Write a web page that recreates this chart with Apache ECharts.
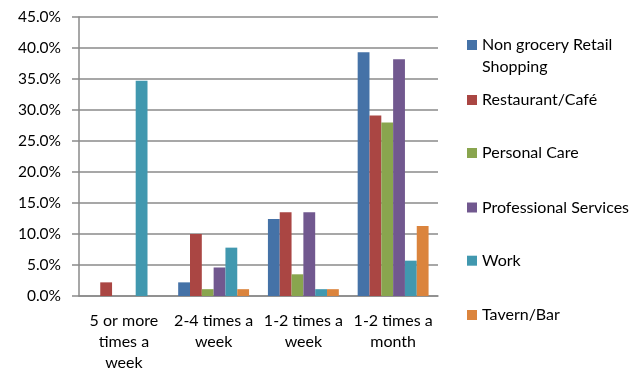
<!DOCTYPE html>
<html>
<head>
<meta charset="utf-8">
<script src="https://cdn.jsdelivr.net/npm/echarts@6/dist/echarts.min.js"></script>
<style>
  html, body { margin: 0; padding: 0; background: #fff; }
  #chart { width: 644px; height: 369px; }
</style>
</head>
<body>
<div id="chart"></div>
<script>
// Visit frequency categories (line breaks as shown under the axis)
const categories = ['5 or more\ntimes a\nweek', '2-4 times a\nweek', '1-2 times a\nweek', '1-2 times a\nmonth'];

// Share of respondents per destination type (%)
const nonGroceryRetail = [0, 2.2, 12.4, 39.3];
const restaurantCafe   = [2.2, 10.0, 13.5, 29.1];
const personalCare     = [0, 1.1, 3.5, 28.0];
const professionalSvc  = [0, 4.6, 13.5, 38.2];
const work             = [34.7, 7.8, 1.1, 5.7];
const tavernBar        = [0, 1.1, 1.1, 11.3];

const seriesNames = ['Non grocery Retail\nShopping', 'Restaurant/Café', 'Personal Care', 'Professional Services', 'Work', 'Tavern/Bar'];
const seriesData = [nonGroceryRetail, restaurantCafe, personalCare, professionalSvc, work, tavernBar];
const colors = ['#4572A7', '#AA4643', '#89A54E', '#71588F', '#4198AF', '#DB843D'];

const FONT = 'Lato';
const TXT = '#000';
const GRID = '#8a8a8a';

// one legend block per series so each entry sits at its own row;
// a two-line name gets a blank leading line so its swatch lines up with the first line
const legendRows = [45, 100, 153, 207.5, 260.7, 315];
const LH = 21.5;
const legends = seriesNames.map((name, i) => {
  const twoLine = name.indexOf('\n') >= 0;
  return {
    data: [name],
    orient: 'vertical',
    left: 467,
    top: twoLine ? legendRows[i] - 1.5 * LH : legendRows[i] - LH / 2,
    itemWidth: 10,
    itemHeight: 10,
    icon: 'rect',
    selectedMode: false,
    padding: 0,
    formatter: n => (n.indexOf('\n') >= 0 ? '\n' + n : n),
    textStyle: { fontFamily: FONT, fontSize: 16, color: TXT, lineHeight: LH }
  };
});

const chart = echarts.init(document.getElementById('chart'));
chart.setOption({
  animation: false,
  color: colors,
  legend: legends,
  grid: { left: 79, right: 206, top: 17, bottom: 73, outerBoundsMode: 'none' },
  xAxis: {
    type: 'category',
    data: categories,
    axisLine: { lineStyle: { color: GRID, width: 1.5 } },
    axisTick: { length: 5, lineStyle: { color: GRID, width: 1.5 } },
    axisLabel: { fontFamily: FONT, fontSize: 16, color: TXT, lineHeight: 21.3, margin: 14, interval: 0 }
  },
  yAxis: {
    type: 'value',
    min: 0, max: 45, interval: 5,
    axisLine: { show: true, lineStyle: { color: GRID, width: 1.5 } },
    axisTick: { show: true, length: 7, lineStyle: { color: GRID, width: 1.5 } },
    splitLine: { lineStyle: { color: GRID, width: 1.5 } },
    axisLabel: { fontFamily: FONT, fontSize: 15.5, color: TXT, margin: 18, formatter: v => v.toFixed(1) + '%' }
  },
  series: seriesNames.map((name, i) => ({
    name: name,
    type: 'bar',
    data: seriesData[i],
    barGap: '0%',
    barCategoryGap: '21%'
  }))
});
</script>
</body>
</html>
